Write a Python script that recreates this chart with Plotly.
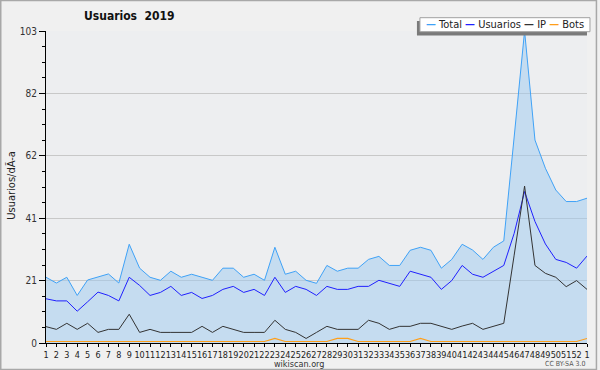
import plotly.graph_objects as go

weeks = ["1","2","3","4","5","6","7","8","9","10","11","12","13","14","15","16","17","18","19","20",
         "21","22","23","24","25","26","27","28","29","30","31","32","33","34","35","36","37","38","39","40",
         "41","42","43","44","45","46","47","48","49","50","51","52","1"]

total = [21.7,19.8,21.7,15.7,20.8,21.7,22.8,19.8,32.6,24.7,21.7,20.7,23.7,21.7,22.7,21.7,20.7,24.7,24.7,21.7,
         22.7,20.7,31.6,22.7,23.7,20.7,19.7,25.6,23.7,24.7,24.7,27.6,28.6,25.6,25.6,30.6,31.6,30.6,24.7,27.6,
         32.6,30.7,27.6,31.6,33.7,68.0,103.0,67.0,57.7,50.5,46.7,46.7,47.8]
usuarios = [14.6,13.9,13.9,10.5,13.6,16.8,15.7,13.9,21.7,19.0,15.7,16.7,18.7,15.7,16.7,14.7,15.7,17.7,18.7,16.7,
            17.7,15.7,21.7,16.7,18.7,17.7,15.7,18.7,17.7,17.7,18.7,18.7,20.7,19.7,18.7,23.7,22.7,21.7,17.7,20.6,
            25.6,22.7,21.7,23.7,25.6,36.2,50.0,40.1,32.7,27.6,26.6,24.7,28.7]
ip = [5.4,4.5,6.5,4.5,6.5,3.5,4.5,4.5,9.5,3.5,4.5,3.5,3.5,3.5,3.5,5.5,3.5,5.5,4.5,3.5,
      3.5,3.5,7.5,4.5,3.5,1.5,3.5,5.5,4.5,4.5,4.5,7.5,6.5,4.5,5.5,5.5,6.5,6.5,5.6,4.5,
      5.6,6.5,4.5,5.6,6.5,29.0,51.8,25.6,23.0,21.7,18.6,20.6,17.7]
bots = [0.5,0.5,0.5,0.5,0.5,0.5,0.5,0.5,0.5,0.5,0.5,0.5,0.5,0.5,0.5,0.5,0.5,0.5,0.5,0.5,
        0.5,0.5,1.5,0.5,0.5,0.5,0.5,0.5,1.5,1.5,0.5,0.5,0.5,0.5,0.5,0.5,1.5,0.5,0.5,0.5,
        0.5,0.5,0.5,0.5,0.5,0.5,0.5,0.5,0.5,0.5,0.5,0.5,1.5]

y_tickvals = [0, 20.6, 41.2, 61.8, 82.4, 103]
y_ticktext = ["0", "21", "41", "62", "82", "103"]

FONT = "DejaVu Sans Condensed, DejaVu Sans, sans-serif"
C_TOTAL = "#3fa2f7"
C_USU = "#2020ff"
C_IP = "#333333"
C_BOTS = "#ff9f1a"

x = list(range(len(weeks)))

fig = go.Figure()
fig.add_trace(go.Scatter(x=x, y=total, mode="lines", line=dict(color=C_TOTAL, width=1),
                         fill="tozeroy", fillcolor="rgba(157,202,240,0.5)", name="Total"))
fig.add_trace(go.Scatter(x=x, y=usuarios, mode="lines", line=dict(color=C_USU, width=1), name="Usuarios"))
fig.add_trace(go.Scatter(x=x, y=ip, mode="lines", line=dict(color=C_IP, width=1), name="IP"))
fig.add_trace(go.Scatter(x=x, y=bots, mode="lines", line=dict(color=C_BOTS, width=1.2), name="Bots"))

L, R, T, B = 46, 10, 31, 27
W, H = 600, 370
pw, ph = W - L - R, H - T - B

def px(xp):
    return (xp - L) / pw

def py(yp):
    return (H - B - yp) / ph

fig.update_layout(
    width=W, height=H,
    margin=dict(l=L, r=R, t=T, b=B),
    paper_bgcolor="#f0f0f0",
    plot_bgcolor="#edeef0",
    showlegend=False,
    font=dict(family=FONT, size=10, color="#333333"),
    xaxis=dict(range=[0, len(weeks) - 1], tickmode="array", tickvals=x, ticktext=weeks,
               showgrid=False, zeroline=False, showline=True, linecolor="black", linewidth=1,
               ticks="outside", ticklen=3, tickcolor="black", tickangle=0, ticklabelstandoff=0,
               tickfont=dict(family=FONT, size=9, color="#222222")),
    yaxis=dict(range=[0, 103], tickmode="array", tickvals=y_tickvals, ticktext=y_ticktext,
               showgrid=True, gridcolor="#c8c8c8", gridwidth=1, zeroline=False,
               showline=True, linecolor="black", linewidth=1,
               ticks="outside", ticklen=6, tickcolor="black",
               minor=dict(dtick=5.15, tick0=0, ticks="outside", ticklen=3, tickcolor="black", showgrid=False),
               tickfont=dict(family=FONT, size=10, color="#333333")),
)

shapes = [
    dict(type="rect", xref="paper", yref="paper", x0=px(0.5), x1=px(W - 0.5), y0=py(H - 0.5), y1=py(0.5),
         line=dict(color="#a8a8a8", width=1.5), layer="above"),
    dict(type="rect", xref="paper", yref="paper", x0=px(419), x1=px(590), y0=py(35.5), y1=py(21),
         line=dict(width=0), fillcolor="#7a7a7a", layer="above"),
    dict(type="rect", xref="paper", yref="paper", x0=px(422), x1=px(593), y0=py(31.7), y1=py(17.7),
         line=dict(color="#a0a0a0", width=1), fillcolor="white", layer="above"),
]
fig.update_layout(shapes=shapes)

legend_text = ("<span style='color:%s'><b>—</b></span> Total <span style='color:%s'><b>—</b></span> Usuarios "
               "<span style='color:%s'><b>—</b></span> IP <span style='color:%s'><b>—</b></span> Bots") % (C_TOTAL, C_USU, C_IP, C_BOTS)

annotations = [
    dict(text="<b>Usuarios\u00a0\u00a02019</b>", xref="paper", yref="paper", x=px(129.5), y=py(16.5),
         xanchor="center", yanchor="middle", showarrow=False, font=dict(family=FONT, size=12, color="#111111")),
    dict(text=legend_text, xref="paper", yref="paper", x=px(507.5), y=py(24.7),
         xanchor="center", yanchor="middle", showarrow=False, font=dict(family=FONT, size=11, color="#222222")),
    dict(text="Usuarios/dÃ-a", xref="paper", yref="paper", x=px(10.5), y=py(185), textangle=-90,
         xanchor="center", yanchor="middle", showarrow=False, font=dict(family=FONT, size=11, color="#222222")),
    dict(text="wikiscan.org", xref="paper", yref="paper", x=px(300.5), y=py(363.5),
         xanchor="center", yanchor="middle", showarrow=False, font=dict(family=FONT, size=9, color="#333333")),
    dict(text="CC BY-SA 3.0", xref="paper", yref="paper", x=px(590), y=py(363.5),
         xanchor="right", yanchor="middle", showarrow=False, font=dict(family=FONT, size=7, color="#555555")),
]
fig.update_layout(annotations=annotations)

fig.write_html("out.html", config={"displayModeBar": False},
               post_script="document.body.style.margin='0';document.body.style.overflow='hidden';")
